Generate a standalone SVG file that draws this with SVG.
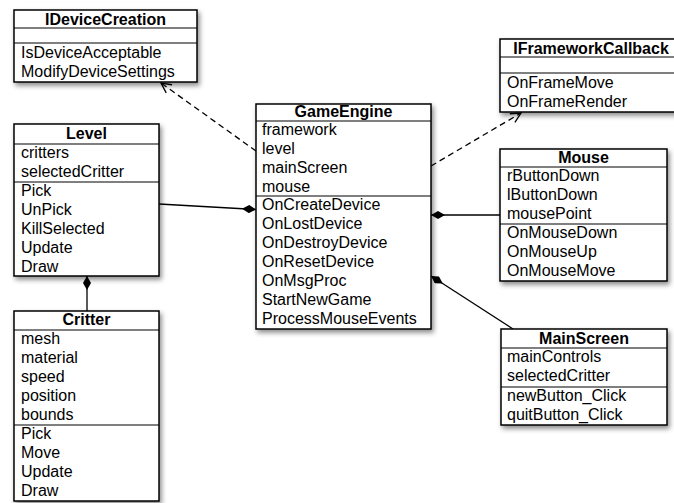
<svg xmlns="http://www.w3.org/2000/svg" width="674" height="503" viewBox="0 0 674 503">
<style>
.box{fill:#fff;stroke:#000;stroke-width:1.5;filter:url(#sh)}
.sep{stroke:#000;stroke-width:1.2}
text{font-family:"Liberation Sans",Arial,Helvetica,sans-serif;font-size:16px;fill:#000}
.h{font-weight:bold;text-anchor:middle}
.c{stroke:#000;stroke-width:1.3;fill:none}
.d{stroke-dasharray:6,4}
</style>
<defs>
<filter id="sh" x="-10%" y="-10%" width="130%" height="130%">
<feDropShadow dx="2" dy="3" stdDeviation="2.5" flood-color="#000" flood-opacity="0.45"/>
</filter>
<marker id="dia" markerUnits="userSpaceOnUse" markerWidth="14" markerHeight="8" viewBox="0 0 14 8" refX="14" refY="4" orient="auto">
<path d="M0,4 L7,0 L14,4 L7,8 Z" fill="#000"/>
</marker>
<marker id="arr" markerUnits="userSpaceOnUse" markerWidth="12" markerHeight="12" viewBox="0 0 12 12" refX="11" refY="6" orient="auto">
<path d="M1,1 L11,6 L1,11" fill="none" stroke="#000" stroke-width="1.3"/>
</marker>
</defs>

<g id="connectors">
<line class="c d" x1="256" y1="151" x2="161" y2="83" marker-end="url(#arr)"/>
<line class="c d" x1="431" y1="166" x2="521" y2="113" marker-end="url(#arr)"/>
<line class="c" x1="159" y1="204" x2="256" y2="209.5" marker-end="url(#dia)"/>
<line class="c" x1="500" y1="215" x2="431" y2="215" marker-end="url(#dia)"/>
<line class="c" x1="513" y1="329" x2="431" y2="276" marker-end="url(#dia)"/>
<line class="c" x1="87" y1="311" x2="87" y2="276" marker-end="url(#dia)"/>
</g>

<g id="IDeviceCreation">
<rect class="box" x="14" y="10" width="183" height="72"/>
<line class="sep" x1="14" y1="28" x2="197" y2="28"/>
<line class="sep" x1="14" y1="43" x2="197" y2="43"/>
<text class="h" x="105.5" y="25">IDeviceCreation</text>
<text x="21" y="58">IsDeviceAcceptable</text>
<text x="21" y="77">ModifyDeviceSettings</text>
</g>

<g id="IFrameworkCallback">
<rect class="box" x="500" y="39" width="182" height="73"/>
<line class="sep" x1="500" y1="57" x2="682" y2="57"/>
<line class="sep" x1="500" y1="73" x2="682" y2="73"/>
<text class="h" x="591" y="54">IFrameworkCallback</text>
<text x="507" y="88">OnFrameMove</text>
<text x="507" y="107">OnFrameRender</text>
</g>

<g id="GameEngine">
<rect class="box" x="256" y="104" width="175" height="225"/>
<line class="sep" x1="256" y1="121" x2="431" y2="121"/>
<line class="sep" x1="256" y1="196" x2="431" y2="196"/>
<text class="h" x="343.5" y="117">GameEngine</text>
<text x="262" y="135">framework</text>
<text x="262" y="154">level</text>
<text x="262" y="173">mainScreen</text>
<text x="262" y="192">mouse</text>
<text x="262" y="210">OnCreateDevice</text>
<text x="262" y="229">OnLostDevice</text>
<text x="262" y="248">OnDestroyDevice</text>
<text x="262" y="267">OnResetDevice</text>
<text x="262" y="286">OnMsgProc</text>
<text x="262" y="305">StartNewGame</text>
<text x="262" y="324">ProcessMouseEvents</text>
</g>

<g id="Level">
<rect class="box" x="14" y="124" width="145" height="152"/>
<line class="sep" x1="14" y1="144" x2="159" y2="144"/>
<line class="sep" x1="14" y1="182" x2="159" y2="182"/>
<text class="h" x="86.5" y="139">Level</text>
<text x="21" y="158">critters</text>
<text x="21" y="177">selectedCritter</text>
<text x="21" y="196">Pick</text>
<text x="21" y="215">UnPick</text>
<text x="21" y="234">KillSelected</text>
<text x="21" y="253">Update</text>
<text x="21" y="272">Draw</text>
</g>

<g id="Critter">
<rect class="box" x="14" y="311" width="145" height="190"/>
<line class="sep" x1="14" y1="330" x2="159" y2="330"/>
<line class="sep" x1="14" y1="425" x2="159" y2="425"/>
<text class="h" x="86.5" y="325">Critter</text>
<text x="21" y="344">mesh</text>
<text x="21" y="363">material</text>
<text x="21" y="382">speed</text>
<text x="21" y="401">position</text>
<text x="21" y="420">bounds</text>
<text x="21" y="439">Pick</text>
<text x="21" y="458">Move</text>
<text x="21" y="477">Update</text>
<text x="21" y="496">Draw</text>
</g>

<g id="Mouse">
<rect class="box" x="500" y="149" width="167" height="132"/>
<line class="sep" x1="500" y1="167" x2="667" y2="167"/>
<line class="sep" x1="500" y1="224" x2="667" y2="224"/>
<text class="h" x="583.5" y="163">Mouse</text>
<text x="507" y="181">rButtonDown</text>
<text x="507" y="200">lButtonDown</text>
<text x="507" y="219">mousePoint</text>
<text x="507" y="238">OnMouseDown</text>
<text x="507" y="257">OnMouseUp</text>
<text x="507" y="276">OnMouseMove</text>
</g>

<g id="MainScreen">
<rect class="box" x="501" y="329" width="166" height="96"/>
<line class="sep" x1="501" y1="348" x2="667" y2="348"/>
<line class="sep" x1="501" y1="387" x2="667" y2="387"/>
<text class="h" x="584" y="344">MainScreen</text>
<text x="507" y="362">mainControls</text>
<text x="507" y="381">selectedCritter</text>
<text x="507" y="401">newButton_Click</text>
<text x="507" y="420">quitButton_Click</text>
</g>
</svg>
